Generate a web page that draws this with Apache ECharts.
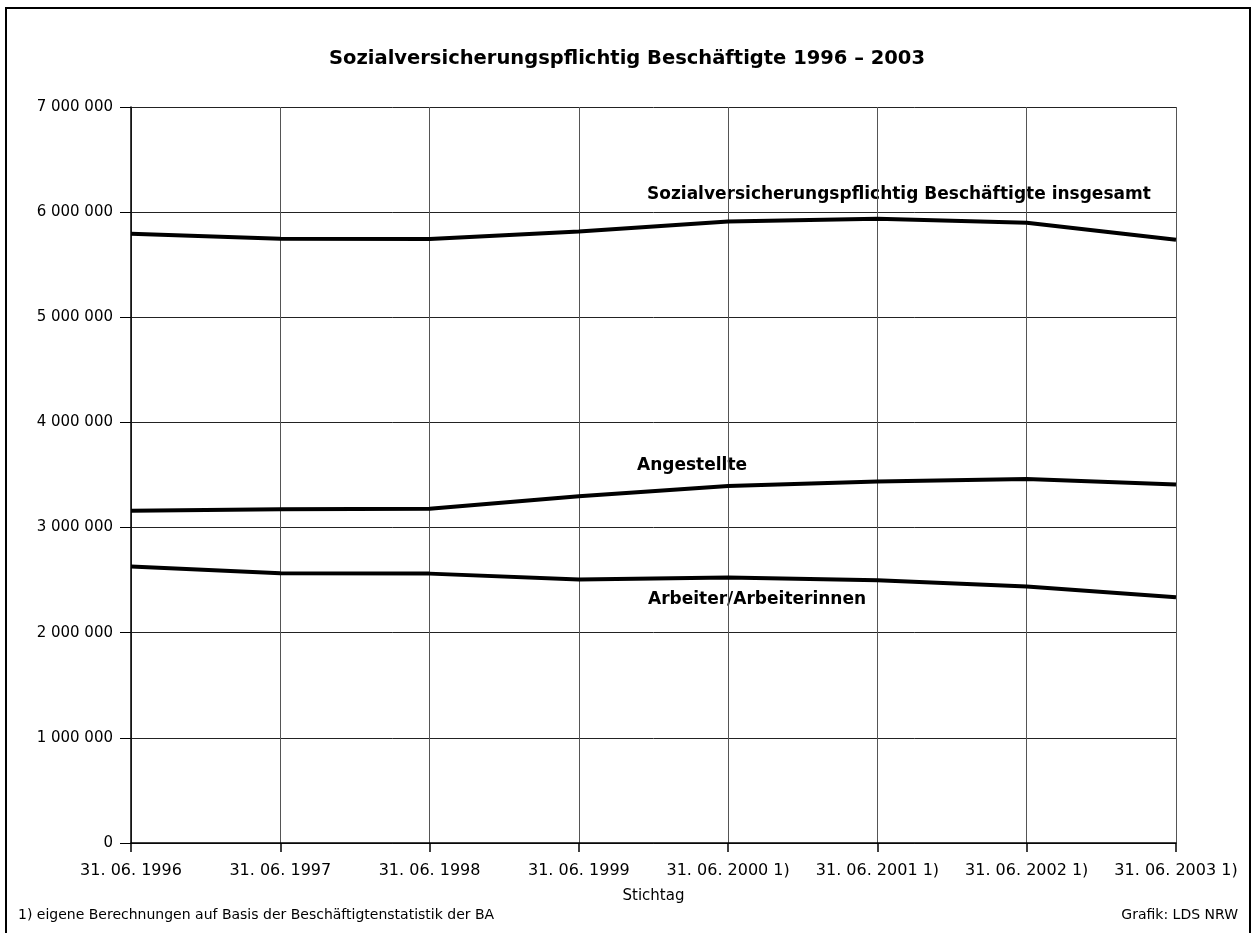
<!DOCTYPE html>
<html>
<head>
<meta charset="utf-8">
<script src="https://cdn.jsdelivr.net/npm/echarts@6/dist/echarts.min.js"></script>
<style>
html,body{margin:0;padding:0;background:#fff;}
#c{width:1254px;height:933px;}
</style>
</head>
<body>
<div id="c"></div>
<script>
const categories = ['31. 06. 1996','31. 06. 1997','31. 06. 1998','31. 06. 1999','31. 06. 2000 1)','31. 06. 2001 1)','31. 06. 2002 1)','31. 06. 2003 1)'];
const insgesamt = [5794000, 5748000, 5744000, 5815000, 5911000, 5936000, 5900000, 5737000];
const angestellte = [3159000, 3174000, 3178000, 3298000, 3396000, 3438000, 3463000, 3410000];
const arbeiter = [2630000, 2566000, 2562000, 2505000, 2524000, 2500000, 2439000, 2337000];
const yTicks = [0, 1000000, 2000000, 3000000, 4000000, 5000000, 6000000, 7000000];

const FONT = '"DejaVu Sans", "Noto Sans", sans-serif';
function fmt(v){ return String(v).replace(/\B(?=(\d{3})+(?!\d))/g, ' '); }

const chart = echarts.init(document.getElementById('c'));
const lineStyle = {color:'#000', width:4};
chart.setOption({
  animation:false,
  backgroundColor:'#fff',
  title:{
    text:'Sozialversicherungspflichtig Beschäftigte 1996 – 2003',
    left:'center', top:44,
    textStyle:{fontFamily:FONT, fontSize:19.5, fontWeight:'bold', color:'#000'}
  },
  grid:{left:131, right:78, top:107, bottom:90, containLabel:false},
  xAxis:{
    type:'category', data:categories, boundaryGap:false,
    name:'Stichtag', nameLocation:'middle', nameGap:46,
    nameTextStyle:{fontFamily:FONT, fontSize:15, color:'#000'},
    axisLine:{lineStyle:{color:'#000', width:1.5}},
    axisTick:{show:true, length:9, lineStyle:{color:'#000', width:1.5}},
    axisLabel:{fontFamily:FONT, fontSize:16, color:'#000', margin:20, interval:0},
    splitLine:{show:true, lineStyle:{color:'#555', width:1}}
  },
  yAxis:{
    type:'value', min:0, max:7000000, interval:1000000,
    axisLine:{show:true, lineStyle:{color:'#000', width:1.5}},
    axisTick:{show:true, length:11, inside:false, lineStyle:{color:'#000', width:1}},
    axisLabel:{fontFamily:FONT, fontSize:15, color:'#000', margin:18,
      formatter:function(v){ return yTicks.indexOf(v) >= 0 ? fmt(v) : ''; }},
    splitLine:{show:true, lineStyle:{color:'#222', width:1}}
  },
  series:[
    {type:'line', name:'Sozialversicherungspflichtig Beschäftigte insgesamt', data:insgesamt, symbol:'none', lineStyle:lineStyle},
    {type:'line', name:'Angestellte', data:angestellte, symbol:'none', lineStyle:lineStyle},
    {type:'line', name:'Arbeiter/Arbeiterinnen', data:arbeiter, symbol:'none', lineStyle:lineStyle}
  ],
  graphic:[
    {type:'rect', shape:{x:6, y:8, width:1244, height:935}, style:{fill:'none', stroke:'#000', lineWidth:2}, silent:true},
    {type:'text', left:647, top:186, style:{text:'Sozialversicherungspflichtig Beschäftigte insgesamt', font:'bold 17px '+FONT, fill:'#000'}},
    {type:'text', left:637, top:457, style:{text:'Angestellte', font:'bold 17px '+FONT, fill:'#000'}},
    {type:'text', left:648, top:591, style:{text:'Arbeiter/Arbeiterinnen', font:'bold 17px '+FONT, fill:'#000'}},
    {type:'text', left:18, top:908, style:{text:'1) eigene Berechnungen auf Basis der Beschäftigtenstatistik der BA', font:'14px '+FONT, fill:'#000'}},
    {type:'text', right:16, top:908, style:{text:'Grafik: LDS NRW', font:'14px '+FONT, fill:'#000'}}
  ]
});
</script>
</body>
</html>
